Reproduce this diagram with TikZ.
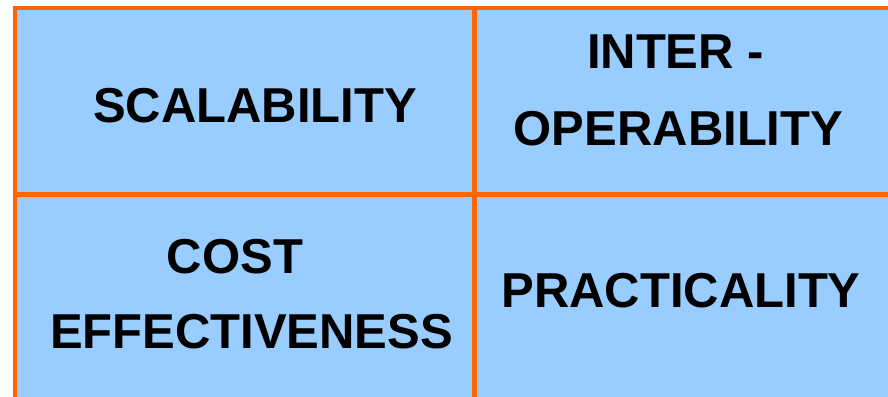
\documentclass[tikz,border=0pt]{standalone}
\usepackage{fontspec}
\setmainfont{Liberation Sans}
\definecolor{cellblue}{HTML}{99CCFF}
\definecolor{gridorange}{HTML}{FF6600}
\tikzset{
  lbl/.style={anchor=base, inner sep=0pt, font=\fontsize{49}{59}\selectfont\bfseries},
  gridline/.style={draw=gridorange, line width=4.5pt}
}
\begin{document}
\begin{tikzpicture}[x=1pt,y=-1pt]
\useasboundingbox (0,0) rectangle (888,396);
% Draw the cell background
\fill[cellblue] (15,8) rectangle (890,398);

% Draw the outer border and the dividing lines
\draw[gridline, line join=miter] (15,398) -- (15,8) -- (890,8);
\draw[gridline] (474.5,8) -- (474.5,398);
\draw[gridline] (15,194.5) -- (890,194.5);

\node[lbl] (scal) at (255,122) {SCALABILITY};
\node[lbl] (inter) at (675.5,68) {INTER -};
\node[lbl] (oper) at (678.5,145) {OPERABILITY};
\node[lbl] (cost) at (235,273) {COST};
\node[lbl] (effect) at (251.5,348) {EFFECTIVENESS};
\node[lbl] (pract) at (681,307) {PRACTICALITY};
\end{tikzpicture}
\end{document}
